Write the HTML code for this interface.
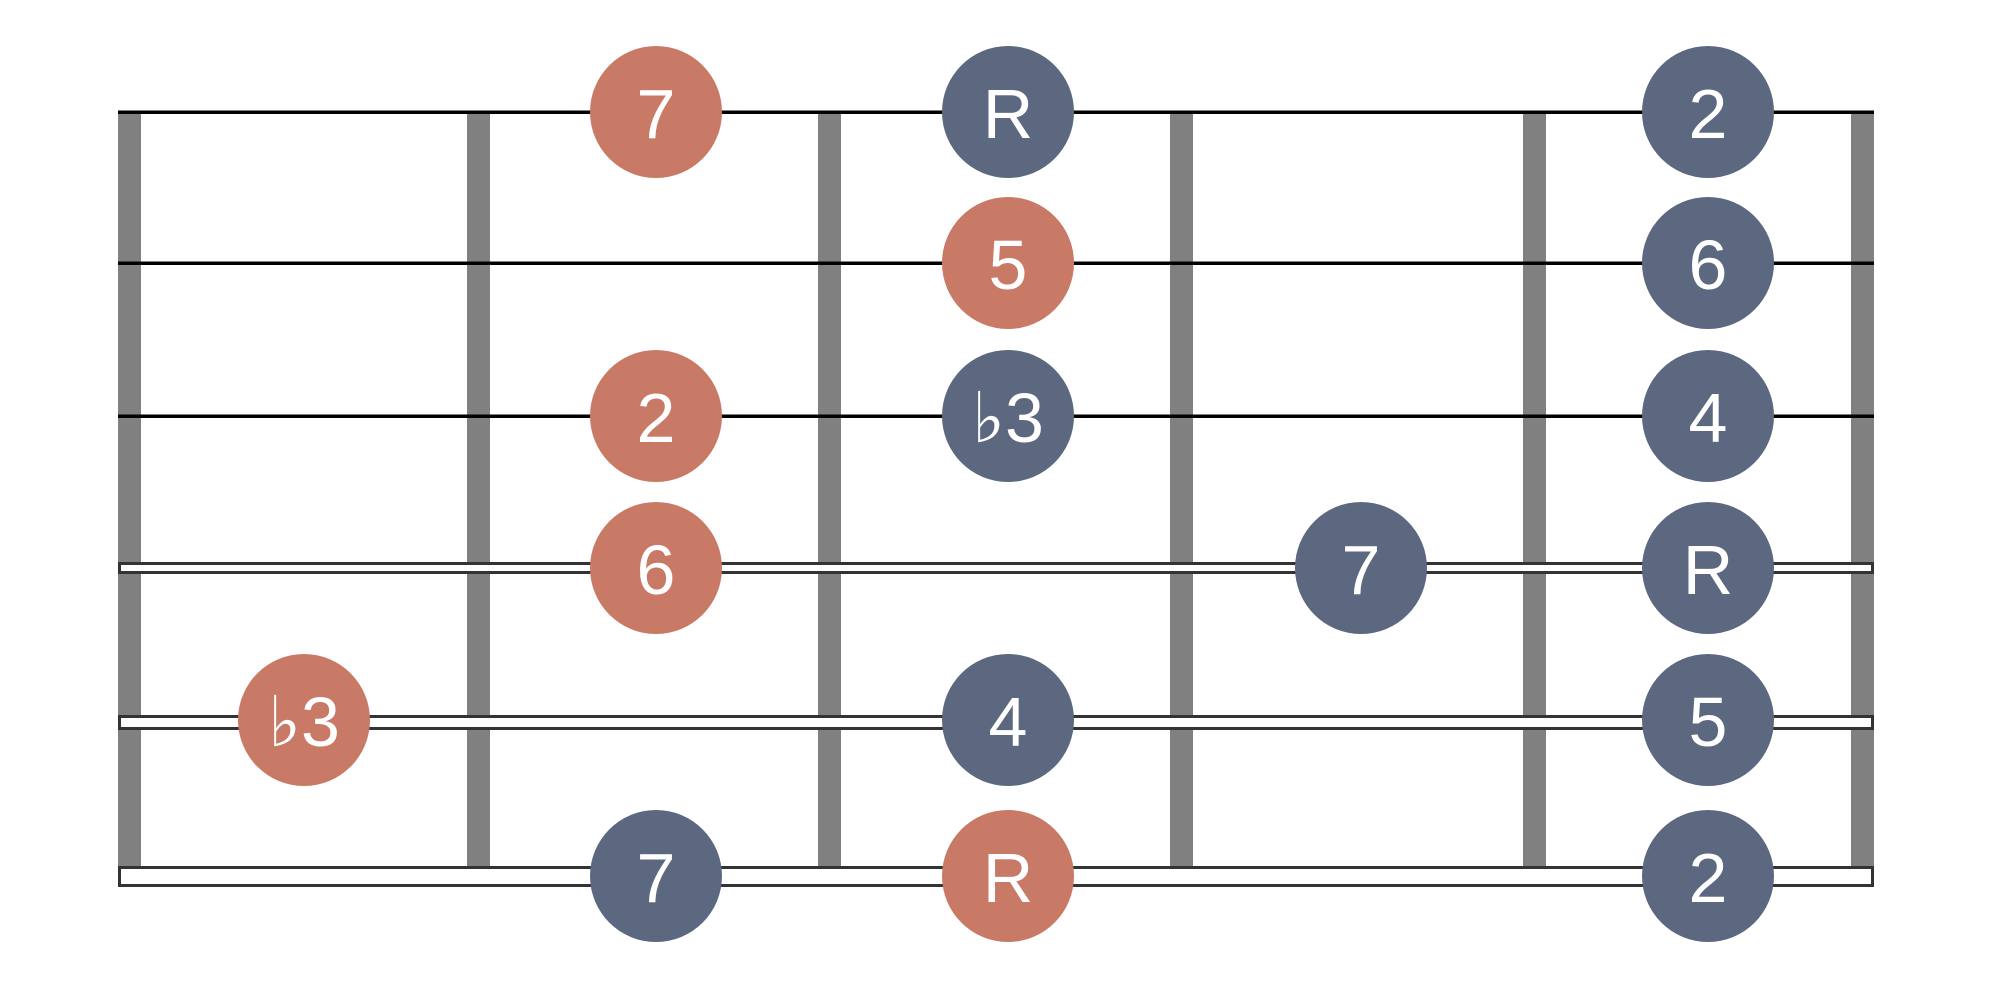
<!DOCTYPE html>
<html><head><meta charset="utf-8"><style>
html,body{margin:0;padding:0;background:#fff;}
svg{display:block}
text{font-family:"Liberation Sans","DejaVu Sans",sans-serif;font-size:70px;fill:#fff;text-anchor:middle;dominant-baseline:central}
</style></head><body>
<svg width="2000" height="1000" viewBox="0 0 2000 1000" xmlns="http://www.w3.org/2000/svg">
<g fill="#808080">
<rect x="118" y="111" width="23" height="776"/>
<rect x="467" y="111" width="23" height="776"/>
<rect x="818" y="111" width="23" height="776"/>
<rect x="1170" y="111" width="23" height="776"/>
<rect x="1523" y="111" width="23" height="776"/>
<rect x="1851" y="111" width="23" height="776"/>
</g>
<g>
<rect x="118" y="110.5" width="1756" height="3.5" fill="#000"/>
<rect x="118" y="261.5" width="1756" height="3.5" fill="#000"/>
<rect x="118" y="414.5" width="1756" height="3.5" fill="#000"/>
<rect x="119.5" y="563.5" width="1753" height="9" fill="#fff" stroke="#333" stroke-width="3"/>
<rect x="119.5" y="716.5" width="1753" height="12" fill="#fff" stroke="#333" stroke-width="3"/>
<rect x="119.5" y="867.5" width="1753" height="18" fill="#fff" stroke="#333" stroke-width="3"/>
</g>
<g>
<circle cx="656" cy="112" r="66" fill="#c87a67"/><text x="656" y="114">7</text>
<circle cx="1008" cy="112" r="66" fill="#5c6780"/><text x="1008" y="114">R</text>
<circle cx="1708" cy="112" r="66" fill="#5c6780"/><text x="1708" y="114">2</text>

<circle cx="1008" cy="263" r="66" fill="#c87a67"/><text x="1008" y="265">5</text>
<circle cx="1708" cy="263" r="66" fill="#5c6780"/><text x="1708" y="265">6</text>

<circle cx="656" cy="416" r="66" fill="#c87a67"/><text x="656" y="418">2</text>
<circle cx="1008" cy="416" r="66" fill="#5c6780"/><text x="1008" y="418">♭3</text>
<circle cx="1708" cy="416" r="66" fill="#5c6780"/><text x="1708" y="418">4</text>

<circle cx="656" cy="568" r="66" fill="#c87a67"/><text x="656" y="570">6</text>
<circle cx="1361" cy="568" r="66" fill="#5c6780"/><text x="1361" y="570">7</text>
<circle cx="1708" cy="568" r="66" fill="#5c6780"/><text x="1708" y="570">R</text>

<circle cx="304" cy="720" r="66" fill="#c87a67"/><text x="304" y="722">♭3</text>
<circle cx="1008" cy="720" r="66" fill="#5c6780"/><text x="1008" y="722">4</text>
<circle cx="1708" cy="720" r="66" fill="#5c6780"/><text x="1708" y="722">5</text>

<circle cx="656" cy="876" r="66" fill="#5c6780"/><text x="656" y="878">7</text>
<circle cx="1008" cy="876" r="66" fill="#c87a67"/><text x="1008" y="878">R</text>
<circle cx="1708" cy="876" r="66" fill="#5c6780"/><text x="1708" y="878">2</text>
</g>
</svg>
</body></html>
